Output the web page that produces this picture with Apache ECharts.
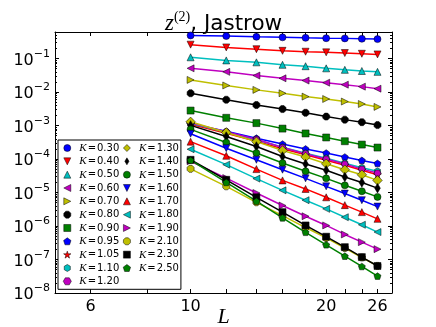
<!DOCTYPE html>
<html>
<head>
<meta charset="utf-8">
<script src="https://cdn.jsdelivr.net/npm/echarts@6/dist/echarts.min.js"></script>
<style>
  html, body { margin: 0; padding: 0; background: #fff; }
  #chart { width: 436px; height: 327px; }
</style>
</head>
<body>
<div id="chart"></div>
<script>
// system sizes L
const sizes = [10, 12, 14, 16, 18, 20, 22, 24, 26];
const xTickValues = [6, 8, 10, 12, 14, 16, 18, 20, 22, 24, 26];
const xLabelValues = [6, 10, 20, 26];

// z^(2), one array per K
const zK030 = [0.49, 0.47, 0.445, 0.43, 0.415, 0.405, 0.40, 0.39, 0.38];
const zK040 = [0.26, 0.215, 0.19, 0.17, 0.16, 0.153, 0.146, 0.139, 0.133];
const zK050 = [0.109, 0.088, 0.077, 0.065, 0.059, 0.051, 0.046, 0.0425, 0.040];
const zK060 = [0.051, 0.040, 0.031, 0.0257, 0.022, 0.019, 0.0166, 0.0145, 0.0126];
const zK070 = [0.023, 0.0157, 0.0116, 0.0092, 0.0073, 0.0062, 0.0052, 0.0044, 0.0036];
const zK080 = [0.0092, 0.0059, 0.0041, 0.0031, 0.0024, 0.00185, 0.0015, 0.00126, 0.00103];
const zK090 = [0.0028, 0.0017, 0.00118, 0.00081, 0.00058, 0.00044, 0.00034, 0.00027, 0.00022];
const zK095 = [1.12e-3, 6.7e-4, 4.2e-4, 2.8e-4, 2.0e-4, 1.51e-4, 1.15e-4, 9.1e-5, 7.4e-5];
const zK105 = [1.09e-3, 5.9e-4, 3.4e-4, 2.03e-4, 1.34e-4, 9.2e-5, 6.5e-5, 4.6e-5, 3.4e-5];
const zK110 = [1.16e-3, 6.3e-4, 3.75e-4, 2.25e-4, 1.49e-4, 1.06e-4, 7.5e-5, 5.5e-5, 4.3e-5];
const zK120 = [1.2e-3, 6.5e-4, 3.9e-4, 2.2e-4, 1.44e-4, 1.0e-4, 7.1e-5, 5.0e-5, 3.8e-5];
const zK130 = [1.29e-3, 6.2e-4, 3.3e-4, 1.8e-4, 1.15e-4, 7.2e-5, 4.8e-5, 3.4e-5, 2.3e-5];
const zK140 = [1.01e-3, 4.7e-4, 2.37e-4, 1.19e-4, 7.1e-5, 4.6e-5, 2.9e-5, 2.0e-5, 1.35e-5];
const zK150 = [7.7e-4, 3.1e-4, 1.51e-4, 7.6e-5, 4.3e-5, 2.65e-5, 1.64e-5, 1.09e-5, 7.4e-6];
const zK160 = [5.7e-4, 2.1e-4, 9.5e-5, 4.8e-5, 2.65e-5, 1.53e-5, 9.3e-6, 5.9e-6, 3.8e-6];
const zK170 = [3.3e-4, 1.25e-4, 5.0e-5, 2.3e-5, 1.28e-5, 7.2e-6, 4.2e-6, 2.6e-6, 1.64e-6];
const zK180 = [1.96e-4, 6.8e-5, 2.6e-5, 1.16e-5, 5.9e-6, 3.25e-6, 1.83e-6, 1.09e-6, 6.6e-7];
const zK190 = [8.6e-5, 2.7e-5, 9.7e-6, 4.1e-6, 1.96e-6, 1.04e-6, 5.6e-7, 3.3e-7, 2.04e-7];
const zK210 = [5.1e-5, 1.53e-5, 5.1e-6, 2.05e-6, 9.0e-7, 4.4e-7, 2.2e-7, 1.15e-7, 6.45e-8];
const zK230 = [9.5e-5, 2.4e-5, 7.2e-6, 2.6e-6, 1.04e-6, 4.8e-7, 2.34e-7, 1.18e-7, 6.4e-8];
const zK250 = [9.2e-5, 2.0e-5, 5.5e-6, 1.75e-6, 6.5e-7, 2.75e-7, 1.26e-7, 6.2e-8, 3.2e-8];

const kLabels = ['0.30', '0.40', '0.50', '0.60', '0.70', '0.80', '0.90', '0.95', '1.05', '1.10',
  '1.20', '1.30', '1.40', '1.50', '1.60', '1.70', '1.80', '1.90', '2.10', '2.30', '2.50'];
const kValues = [zK030, zK040, zK050, zK060, zK070, zK080, zK090, zK095, zK105, zK110,
  zK120, zK130, zK140, zK150, zK160, zK170, zK180, zK190, zK210, zK230, zK250];

// matplotlib-ish markers
const M = {
  circle: 'circle',
  triDown: 'path://M0,0L2,0L1,2Z',
  triUp: 'path://M1,0L2,2L0,2Z',
  triLeft: 'path://M0,1L2,0L2,2Z',
  triRight: 'path://M0,0L2,1L0,2Z',
  octagon: 'path://M192.4,61.7L138.3,7.6L61.7,7.6L7.6,61.7L7.6,138.3L61.7,192.4L138.3,192.4L192.4,138.3Z',
  square: 'path://M0,0L2,0L2,2L0,2Z',
  pentagon: 'path://M100,0L195.1,69.1L158.8,180.9L41.2,180.9L4.9,69.1Z',
  star: 'path://M100,0L122.5,69.1L195.1,69.1L136.3,111.8L158.8,180.9L100,138.2L41.2,180.9L63.7,111.8L4.9,69.1L77.5,69.1Z',
  hexV: 'path://M100,0L13.4,50L13.4,150L100,200L186.6,150L186.6,50Z',
  hexF: 'path://M200,100L150,13.4L50,13.4L0,100L50,186.6L150,186.6Z',
  diamond: 'path://M1,0L2,1L1,2L0,1Z',
  thinDiamond: 'path://M0.6,0L1.2,1L0.6,2L0,1Z',
};
const markers = [M.circle, M.triDown, M.triUp, M.triLeft, M.triRight, M.octagon, M.square,
  M.pentagon, M.star, M.hexV, M.hexF, M.diamond, M.thinDiamond, M.circle, M.triDown, M.triUp,
  M.triLeft, M.triRight, M.octagon, M.square, M.pentagon];
const markerSizes = [7, 7, 7, 7, 7, 7, 7, 7, 8, 7, 7, 9.5, 9.5, 7, 7, 7, 7, 7, 7, 7, 7];
const palette = ['#0000ff', '#ff0000', '#00bfbf', '#bf00bf', '#bfbf00', '#000000', '#008000'];

const yMinorTicks = [];
for (let e = -8; e <= -1; e++) {
  for (let m = 2; m <= 9; m++) yMinorTicks.push(m * Math.pow(10, e));
}

const series = kLabels.map((k, i) => ({
  name: k,
  type: 'line',
  xAxisIndex: 0,
  yAxisIndex: 0,
  data: sizes.map((L, j) => [L, kValues[i][j]]),
  symbol: markers[i],
  symbolSize: markerSizes[i],
  symbolKeepAspect: true,
  lineStyle: { color: palette[i % 7], width: 1.5 },
  itemStyle: { color: palette[i % 7], borderColor: '#000', borderWidth: 0.5 },
  emphasis: { disabled: true },
  animation: false,
}));

const baseX = {
  type: 'log',
  logBase: 10,
  min: 5,
  max: 28,
  splitLine: { show: false },
  axisLine: { onZero: false, lineStyle: { color: '#000', width: 1 } },
  axisTick: { inside: true, length: 4, customValues: xTickValues, lineStyle: { color: '#000' } },
};
const baseY = {
  type: 'log',
  logBase: 10,
  min: 1e-8,
  max: 0.62,
  splitLine: { show: false },
  axisLine: { onZero: false, lineStyle: { color: '#000', width: 1 } },
  axisTick: { inside: true, length: 4, lineStyle: { color: '#000' } },
};
const minorY = {
  type: 'log',
  logBase: 10,
  min: 1e-8,
  max: 0.62,
  splitLine: { show: false },
  axisLine: { show: false },
  axisLabel: { show: false },
  axisTick: { inside: true, length: 2, customValues: yMinorTicks, lineStyle: { color: '#000' } },
};

function expLabel(v) {
  const e = Math.round(Math.log10(v));
  return '{b|10}{s|' + (e < 0 ? '\u2212' + (-e) : e) + '}';
}

const chart = echarts.init(document.getElementById('chart'), null, { renderer: 'canvas' });
chart.setOption({
  animation: false,
  backgroundColor: '#fff',
  title: {
    text: '{z|z}{p|(2)}{t|, Jastrow}',
    left: 165,
    top: 10,
    padding: 0,
    textStyle: {
      fontWeight: 'normal',
      rich: {
        z: { fontFamily: 'Liberation Serif', fontStyle: 'italic', fontWeight: 'normal', fontSize: 23, color: '#000', lineHeight: 25, verticalAlign: 'bottom' },
        p: { fontFamily: 'Liberation Serif', fontWeight: 'normal', fontSize: 14, color: '#000', lineHeight: 14, verticalAlign: 'top' },
        t: { fontFamily: 'DejaVu Sans', fontWeight: 'normal', fontSize: 21.5, color: '#000', lineHeight: 25, verticalAlign: 'bottom' },
      },
    },
  },
  grid: { left: 55, right: 44, top: 32, bottom: 34, containLabel: false, outerBoundsMode: 'none' },
  xAxis: [
    Object.assign({}, baseX, {
      position: 'bottom',
      axisLabel: {
        customValues: xLabelValues,
        color: '#000',
        fontFamily: 'DejaVu Sans',
        fontSize: 16,
        margin: 6,
      },
      name: 'L',
      nameLocation: 'middle',
      nameGap: 13,
      nameMoveOverlap: false,
      nameTextStyle: { fontFamily: 'Liberation Serif', fontStyle: 'italic', fontSize: 22, color: '#000' },
    }),
    Object.assign({}, baseX, { position: 'top', axisLabel: { show: false } }),
  ],
  yAxis: [
    Object.assign({}, baseY, {
      position: 'left',
      axisLabel: {
        showMaxLabel: false,
        margin: 5,
        formatter: expLabel,
        rich: {
          b: { fontFamily: 'DejaVu Sans', fontSize: 16, color: '#000', lineHeight: 20, verticalAlign: 'bottom' },
          s: { fontFamily: 'DejaVu Sans', fontSize: 11, color: '#000', lineHeight: 11, verticalAlign: 'top' },
        },
      },
    }),
    Object.assign({}, baseY, { position: 'right', axisLabel: { show: false } }),
    Object.assign({}, minorY, { position: 'left' }),
    Object.assign({}, minorY, { position: 'right' }),
  ],
  legend: {
    orient: 'vertical',
    left: 58,
    top: 140,
    height: 150,
    padding: [2.5, 1, 2.5, 5],
    itemGap: 2.33,
    itemWidth: 14,
    itemHeight: 7,
    symbolKeepAspect: true,
    backgroundColor: '#fff',
    borderColor: '#000',
    borderWidth: 1,
    borderRadius: 0,
    selectedMode: false,
    data: kLabels.map((k, i) => ({ name: k, icon: markers[i] })),
    itemStyle: { borderColor: '#000', borderWidth: 0.5 },
    formatter: (name) => '{k|K}{e|=}{t|' + name + '}',
    textStyle: {
      width: 41,
      lineHeight: 10,
      rich: {
        k: { fontFamily: 'Liberation Serif', fontStyle: 'italic', fontSize: 11, color: '#000', lineHeight: 10 },
        e: { fontFamily: 'DejaVu Sans', fontSize: 10, color: '#000', padding: [0, 1, 0, 1], lineHeight: 10 },
        t: { fontFamily: 'DejaVu Sans', fontSize: 10, color: '#000', lineHeight: 10 },
      },
    },
  },
  series: series,
});
</script>
</body>
</html>
